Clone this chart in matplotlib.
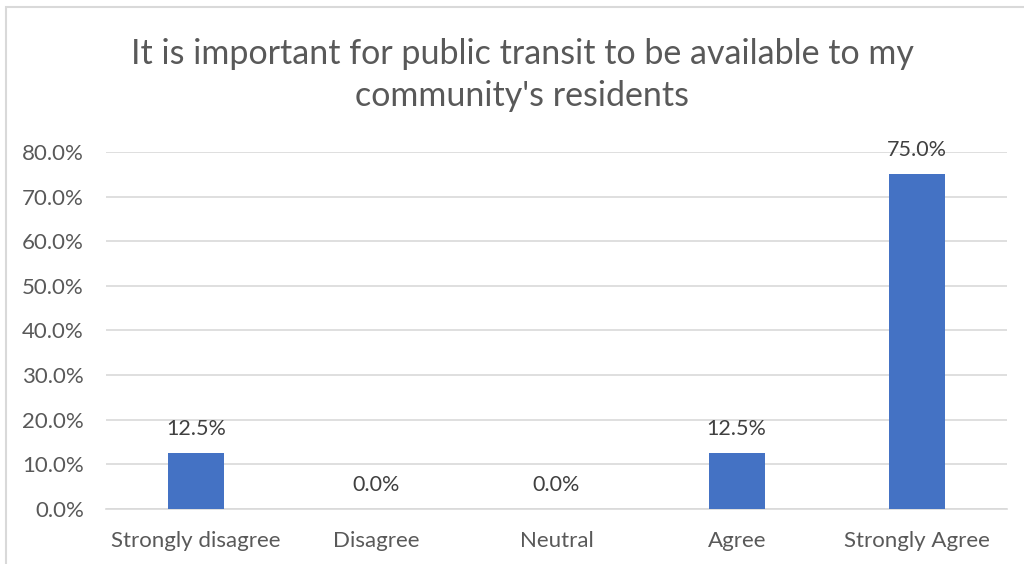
import numpy as np
from matplotlib import pyplot as plt
from matplotlib.patches import Rectangle

plt.rcParams['font.family'] = ['Lato', 'DejaVu Sans']

responses = ['Strongly disagree', 'Disagree', 'Neutral', 'Agree', 'Strongly Agree']
shares = [12.5, 0.0, 0.0, 12.5, 75.0]
yticks = [0, 10, 20, 30, 40, 50, 60, 70, 80]

text_col = '#595959'
grid_col = '#D9D9D9'
bar_col = '#4472C4'

fig = plt.figure(figsize=(10.24, 5.64), dpi=100)
# chart frame (only top/left edges fall inside the image)
fig.patches.append(Rectangle((6/1024, -0.1), 1.2, (564-7)/564 + 0.1, transform=fig.transFigure,
                             fill=False, edgecolor='#D9D9D9', linewidth=1.5))

ax = fig.add_axes([106/1024, 55/564, 901/1024, 357/564])
x = np.arange(len(responses))
bars = ax.bar(x, shares, width=0.31, color=bar_col, zorder=3)

for b, v in zip(bars, shares):
    ax.annotate(f'{v:.1f}%', (b.get_x() + b.get_width()/2, v), xytext=(0, 10),
                textcoords='offset points', ha='center', va='bottom',
                fontsize=15.5, color='#404040')

ax.set_xlim(-0.5, len(responses) - 0.5)
ax.set_ylim(0, 80)
ax.set_yticks(yticks)
ax.set_yticklabels([f'{t:.1f}%' for t in yticks])
ax.set_xticks(x)
ax.set_xticklabels(responses)
ax.tick_params(axis='both', length=0, labelsize=16, labelcolor=text_col)
ax.tick_params(axis='y', pad=16)
ax.tick_params(axis='x', pad=16)
ax.grid(axis='y', color=grid_col, linewidth=1.2, zorder=0)
for side in ['top', 'right', 'left']:
    ax.spines[side].set_visible(False)
ax.spines['bottom'].set_color(grid_col)
ax.spines['bottom'].set_linewidth(1.2)

fig.text(0.51, 1 - 75/564, "It is important for public transit to be available to my\ncommunity's residents",
         ha='center', va='center', fontsize=24.5, color=text_col, linespacing=1.4)

fig.savefig('out.png', dpi=100)
